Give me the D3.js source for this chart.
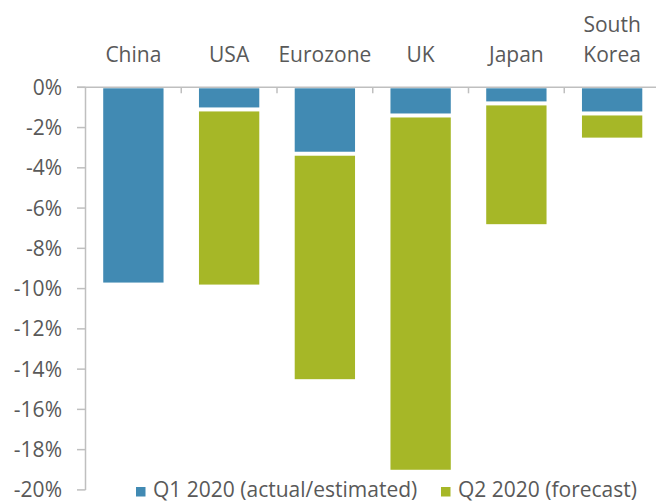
<!DOCTYPE html>
<html>
<head>
<meta charset="utf-8">
<script src="https://cdn.jsdelivr.net/npm/d3@7"></script>
<style>
  body { margin: 0; background: #fff; }
  text { font-family: "Open Sans", sans-serif; fill: #595959; }
</style>
</head>
<body>
<div class="canvas"></div>
<script>
// data
const countries = ["China", "USA", "Eurozone", "UK", "Japan", "South Korea"];
const q1 = [-9.7, -1.1, -3.3, -1.4, -0.8, -1.3];   // Q1 2020 (actual/estimated)
const q2 = [0, -8.7, -11.2, -17.6, -6.0, -1.2];    // Q2 2020 (forecast)
const yTicks = [0, -2, -4, -6, -8, -10, -12, -14, -16, -18, -20];
const seriesNames = ["Q1 2020 (actual/estimated)", "Q2 2020 (forecast)"];
const colors = ["#418ab3", "#a6b727"];

const width = 656, height = 501;
const svg = d3.select(".canvas").append("svg").attr("width", width).attr("height", height);

const x = d3.scaleBand().domain(countries).range([85.5, 660]).paddingInner(0.37).paddingOuter(0.185);
const band = d3.scaleBand().domain(countries).range([85.5, 660]);
const y = d3.scaleLinear().domain([0, -20]).range([87.3, 489.9]);

const axisColor = "#bfbfbf";
const gap = 2;
const fs = "21px";

// y axis
svg.append("line")
    .attr("x1", 85.5).attr("x2", 85.5)
    .attr("y1", y(0)).attr("y2", y(-20))
    .attr("stroke", axisColor).attr("stroke-width", 1.5);

yTicks.forEach(t => {
    svg.append("line")
        .attr("x1", 77).attr("x2", 85.5)
        .attr("y1", y(t)).attr("y2", y(t))
        .attr("stroke", axisColor).attr("stroke-width", 1.5);
    svg.append("text")
        .attr("x", 62).attr("y", y(t))
        .attr("dy", "0.36em")
        .attr("text-anchor", "end")
        .attr("font-size", fs)
        .text(t + "%");
});

// category axis along the top (zero line)
svg.append("line")
    .attr("x1", 77).attr("x2", width)
    .attr("y1", y(0)).attr("y2", y(0))
    .attr("stroke", axisColor).attr("stroke-width", 1.5);

countries.forEach((c, i) => {
    if (i > 0) {
        svg.append("line")
            .attr("x1", band(c)).attr("x2", band(c))
            .attr("y1", y(0)).attr("y2", y(0) + 6)
            .attr("stroke", axisColor).attr("stroke-width", 1.5);
    }
    const cx = band(c) + band.bandwidth() / 2;
    const words = c === "South Korea" ? ["South", "Korea"] : [c];
    words.forEach((w, k) => {
        svg.append("text")
            .attr("x", cx)
            .attr("y", 61.5 - (words.length - 1 - k) * 29.7)
            .attr("text-anchor", "middle")
            .attr("font-size", fs)
            .text(w);
    });
});

// bars
countries.forEach((c, i) => {
    const top1 = y(0) + 1;
    const bot1 = y(q1[i]) - (q2[i] !== 0 ? gap : 0);
    svg.append("rect")
        .attr("x", x(c)).attr("y", top1)
        .attr("width", x.bandwidth())
        .attr("height", bot1 - top1)
        .attr("fill", colors[0]);

    if (q2[i] !== 0) {
        const top2 = y(q1[i]) + gap;
        const bot2 = y(q1[i] + q2[i]);
        svg.append("rect")
            .attr("x", x(c)).attr("y", top2)
            .attr("width", x.bandwidth())
            .attr("height", bot2 - top2)
            .attr("fill", colors[1]);
    }
});

// legend
const legendX = [136, 441];
seriesNames.forEach((s, i) => {
    svg.append("rect")
        .attr("x", legendX[i]).attr("y", 487)
        .attr("width", 9.5).attr("height", 9.5)
        .attr("fill", colors[i]);
    svg.append("text")
        .attr("x", legendX[i] + 17).attr("y", 497)
        .attr("font-size", fs)
        .text(s);
});
</script>
</body>
</html>
